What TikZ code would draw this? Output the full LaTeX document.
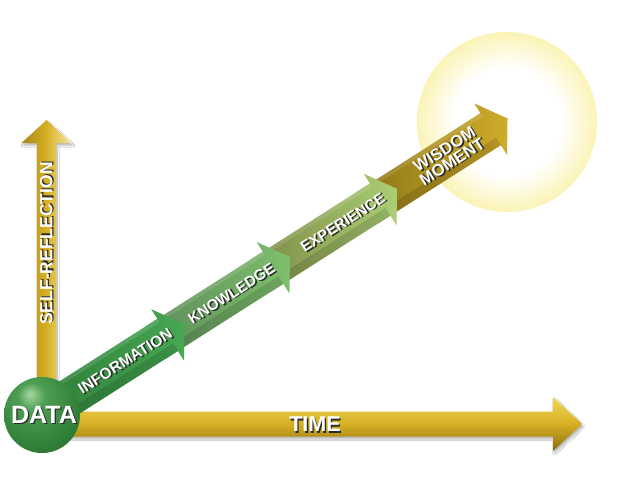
\documentclass[tikz,border=0pt]{standalone}
\usepackage{fontspec}
\setsansfont{Liberation Sans}
\usetikzlibrary{shadows.blur,calc}
\definecolor{goldA}{HTML}{F0D657}
\definecolor{goldB}{HTML}{D6B024}
\definecolor{goldC}{HTML}{8A6C0C}
\definecolor{sunY}{HTML}{FAF0A0}
\definecolor{infoA}{HTML}{2E7A38}
\definecolor{infoB}{HTML}{46A852}
\definecolor{knowA}{HTML}{5C8A58}
\definecolor{knowB}{HTML}{7EBF6D}
\definecolor{expA}{HTML}{7C8846}
\definecolor{expB}{HTML}{AACF74}
\definecolor{wisA}{HTML}{8A7416}
\definecolor{wisB}{HTML}{CFAC2A}
\definecolor{ballA}{HTML}{A8D8A0}
\definecolor{ballB}{HTML}{4E9E54}
\definecolor{ballC}{HTML}{2F7E36}
\definecolor{ballD}{HTML}{1C5420}
\definecolor{txtshd}{HTML}{2A2A2A}
\pgfdeclareradialshading{sunglow}{\pgfpoint{0bp}{0bp}}{color(0bp)=(white); color(15bp)=(white); color(26bp)=(sunY!85!white); color(37bp)=(sunY!40!white); color(50bp)=(white)}
\pgfdeclareradialshading{greenball}{\pgfpoint{-8bp}{14bp}}{color(0bp)=(ballA); color(9bp)=(ballB); color(30bp)=(ballC); color(56bp)=(ballD); color(70bp)=(ballD)}
\newcommand{\bandseg}[4]{% start, back, colA, colB
  \path[left color=#3, right color=#4]
    (#1,-19) -- (#2,-19) -- (#2,-30.5) -- ({#2+20},0) -- (#2,30.5) -- (#2,19) -- (#1,19) -- cycle;
  \fill[black, opacity=0.13] (#1,10) -- (#2,10) -- (#2,19) -- (#1,19) -- cycle;
  \fill[white, opacity=0.12] (#1,-19) -- (#2,-19) -- (#2,-15) -- (#1,-15) -- cycle;
}
% white text with a dark drop shadow, in one box
\newcommand{\shtxt}[1]{\makebox[0pt][l]{\hspace{1.3pt}\raisebox{-1.3pt}{\textcolor{txtshd}{#1}}}#1}
\begin{document}
\begin{tikzpicture}[x=1pt,y=-1pt,
  lbl/.style={font=\sffamily\bfseries, text=white, inner sep=0pt},
  axshadow/.style={blur shadow={shadow xshift=1.5pt, shadow yshift=-2.5pt, shadow blur steps=6, shadow opacity=28}}]
\useasboundingbox (0,0) rectangle (635,490);
\fill[white] (0,0) rectangle (635,490);
% sun glow
\shade[shading=sunglow] (507,122) circle (90);
% horizontal axis (time)
\path[axshadow, top color=goldA, bottom color=goldC, middle color=goldB]
  (40,411.5) -- (553,411.5) -- (553,397) -- (582,424) -- (553,451) -- (553,436.5) -- (40,436.5) -- cycle;
% vertical axis (self-reflection)
\path[axshadow, left color=goldC!60!goldB, right color=goldA!55!white, middle color=goldB]
  (37,400) -- (37,143) -- (21.5,143) -- (46.5,120) -- (71.5,143) -- (56,143) -- (56,400) -- cycle;
% diagonal bands
\begin{scope}[shift={(42,415)}, rotate=32.5]
  \bandseg{386}{532}{wisA}{wisB}
  \bandseg{259}{401}{expA}{expB}
  \bandseg{134}{274}{knowA}{knowB}
  \bandseg{0}{149}{infoA}{infoB}
  \coordinate (cInfo) at (99,0);
  \coordinate (cKnow) at (225,0);
  \coordinate (cExp) at (357,0);
  \coordinate (cWis) at (482,0);
\end{scope}
% data ball
\node[circle, minimum size=76, inner sep=0pt, shading=greenball] (data) at (42,415) {};
% labels
\node[lbl, rotate=32.5, font=\sffamily\bfseries\fontsize{15.5}{17}\selectfont] (infoT) at (cInfo) {\shtxt{INFORMATION}};
\node[lbl, rotate=32.5, font=\sffamily\bfseries\fontsize{15}{17}\selectfont] (knowT) at (cKnow) {\shtxt{KNOWLEDGE}};
\node[lbl, rotate=32.5, font=\sffamily\bfseries\fontsize{15}{17}\selectfont] (expT) at (cExp) {\shtxt{EXPERIENCE}};
\node[lbl, rotate=32.5, align=center, font=\sffamily\bfseries\fontsize{16.5}{14.5}\selectfont] (wisT) at (cWis) {\shtxt{WISDOM}\\\shtxt{MOMENT}};
\node[lbl, rotate=90, font=\sffamily\bfseries\fontsize{17.5}{19}\selectfont] (selfT) at (47,243.5) {\shtxt{SELF-REFLECTION}};
\node[lbl, font=\sffamily\bfseries\fontsize{21.5}{23}\selectfont] (timeT) at (315,425) {\shtxt{TIME}};
\node[lbl, font=\sffamily\bfseries\fontsize{25}{27}\selectfont] (dataT) at (44,415.5) {\shtxt{DATA}};
\end{tikzpicture}
\end{document}
